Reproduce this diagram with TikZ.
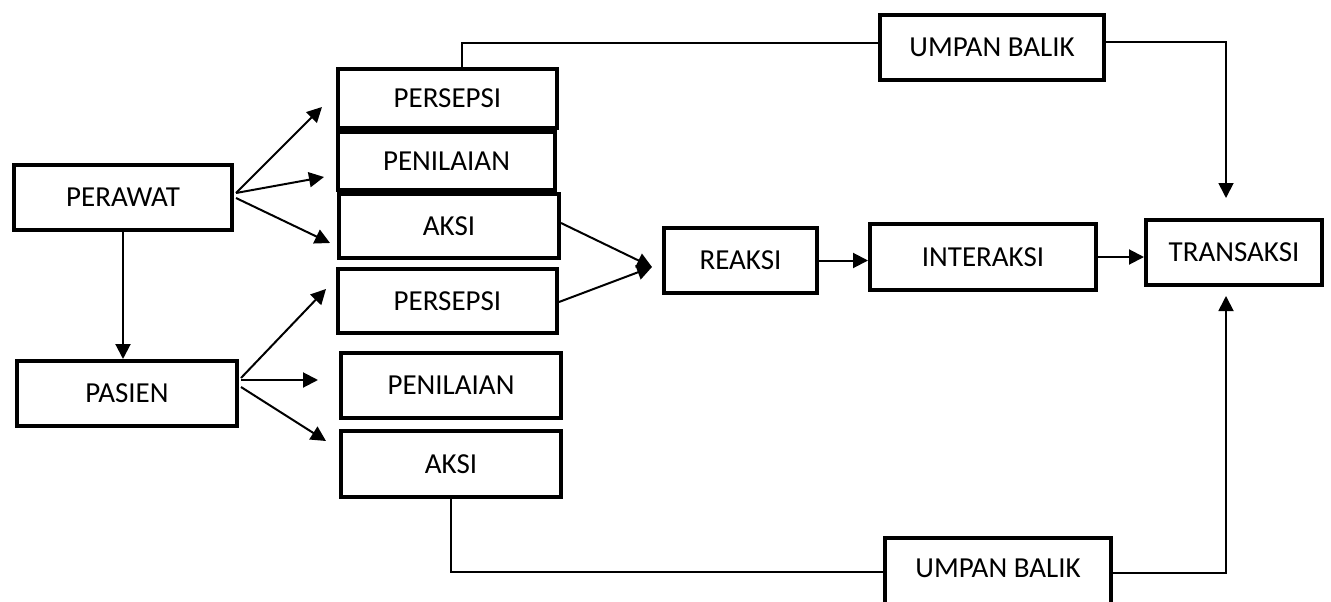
\documentclass[tikz,border=0pt]{standalone}
\usepackage{fontspec}
\setmainfont{Carlito}
\usetikzlibrary{arrows.meta,calc}
\begin{document}
\begin{tikzpicture}[x=1pt,y=-1pt,
  box/.style={draw,line width=4pt,inner sep=0pt,font=\fontsize{29}{33}\selectfont},
  tipend/.style={-{Triangle[length=15pt,width=15pt]}},
  arr/.style={line width=2pt,tipend},
  fb/.style={line width=1.8pt}]
\useasboundingbox (0,0) rectangle (1331,602);
\clip (0,0) rectangle (1331,602);
\fill[white] (0,0) rectangle (1331,602);

% left column
\node[box,minimum width=218pt,minimum height=65pt] (perawat) at (123,197.5) {PERAWAT};
\node[box,minimum width=220pt,minimum height=65pt] (pasien) at (127,393.5) {PASIEN};

% stacked boxes
\node[box,minimum width=219pt,minimum height=59pt] (pers1) at (447.5,98.5) {PERSEPSI};
\node[box,minimum width=217pt,minimum height=58pt] (pen1) at (446.5,161) {PENILAIAN};
\node[box,minimum width=220pt,minimum height=64pt] (aksi1) at (449,226) {AKSI};
\node[box,minimum width=219pt,minimum height=64pt] (pers2) at (447.5,301) {PERSEPSI};
\node[box,minimum width=220pt,minimum height=65pt] (pen2) at (451,385.5) {PENILAIAN};
\node[box,minimum width=220pt,minimum height=66pt] (aksi2) at (451,464) {AKSI};

% main chain
\node[box,minimum width=153pt,minimum height=65pt] (reaksi) at (740.5,260.5) {REAKSI};
\node[box,minimum width=226pt,minimum height=66pt] (interaksi) at (983,257) {INTERAKSI};
\node[box,minimum width=176pt,minimum height=65pt] (transaksi) at (1234,252.5) {TRANSAKSI};

% feedback boxes (the lower one runs past the bottom edge)
\node[box,minimum width=224pt,minimum height=65pt] (ub1) at (992,47.5) {UMPAN BALIK};
\node[box,minimum width=226pt,minimum height=72pt,text depth=12pt] (ub2) at (998,574) {UMPAN BALIK};

% arrow end points
\coordinate (t1) at (322,107);
\coordinate (t2) at (324,177);
\coordinate (t3) at (330,243);
\coordinate (p1) at (326,289);
\coordinate (p2) at (318,380);
\coordinate (p3) at (326,441);
\coordinate (rtip) at (652,267);
\coordinate (ttop) at (1226,198);
\coordinate (tbot) at (1226,296);

% PERAWAT fan
\draw[arr] ($(perawat.east)+(2,-4.5)$) -- (t1);
\draw[arr] ($(perawat.east)+(2,-4.5)$) -- (t2);
\draw[arr] ($(perawat.east)+(2,0.5)$) -- (t3);
\draw[arr] (perawat.south) -- (perawat.south |- pasien.north);

% PASIEN fan
\draw[arr] ($(pasien.east)+(2,-15.5)$) -- (p1);
\draw[arr] ($(pasien.east)+(2,-13.5)$) -- (p2);
\draw[arr] ($(pasien.east)+(2,-6.5)$) -- (p3);

% into REAKSI
\draw[arr] ($(aksi1.east)+(0,-3)$) -- (rtip);
\draw[arr] ($(pers2.east)+(0,1)$) -- (rtip);

% chain
\draw[arr] (reaksi.east) -- (reaksi.east -| interaksi.west);
\draw[arr] (interaksi.east) -- (interaksi.east -| transaksi.west);

% feedback loops
\draw[fb] ($(pers1.north)+(14.5,0)$) |- ($(ub1.west)+(0,-4.5)$);
\draw[fb,tipend] ($(ub1.east)+(0,-5.5)$) -| (ttop);
\draw[fb] (aksi2.south) |- ($(ub2.west)+(0,-2)$);
\draw[fb,tipend] ($(ub2.east)+(0,-1)$) -| (tbot);
\end{tikzpicture}
\end{document}
